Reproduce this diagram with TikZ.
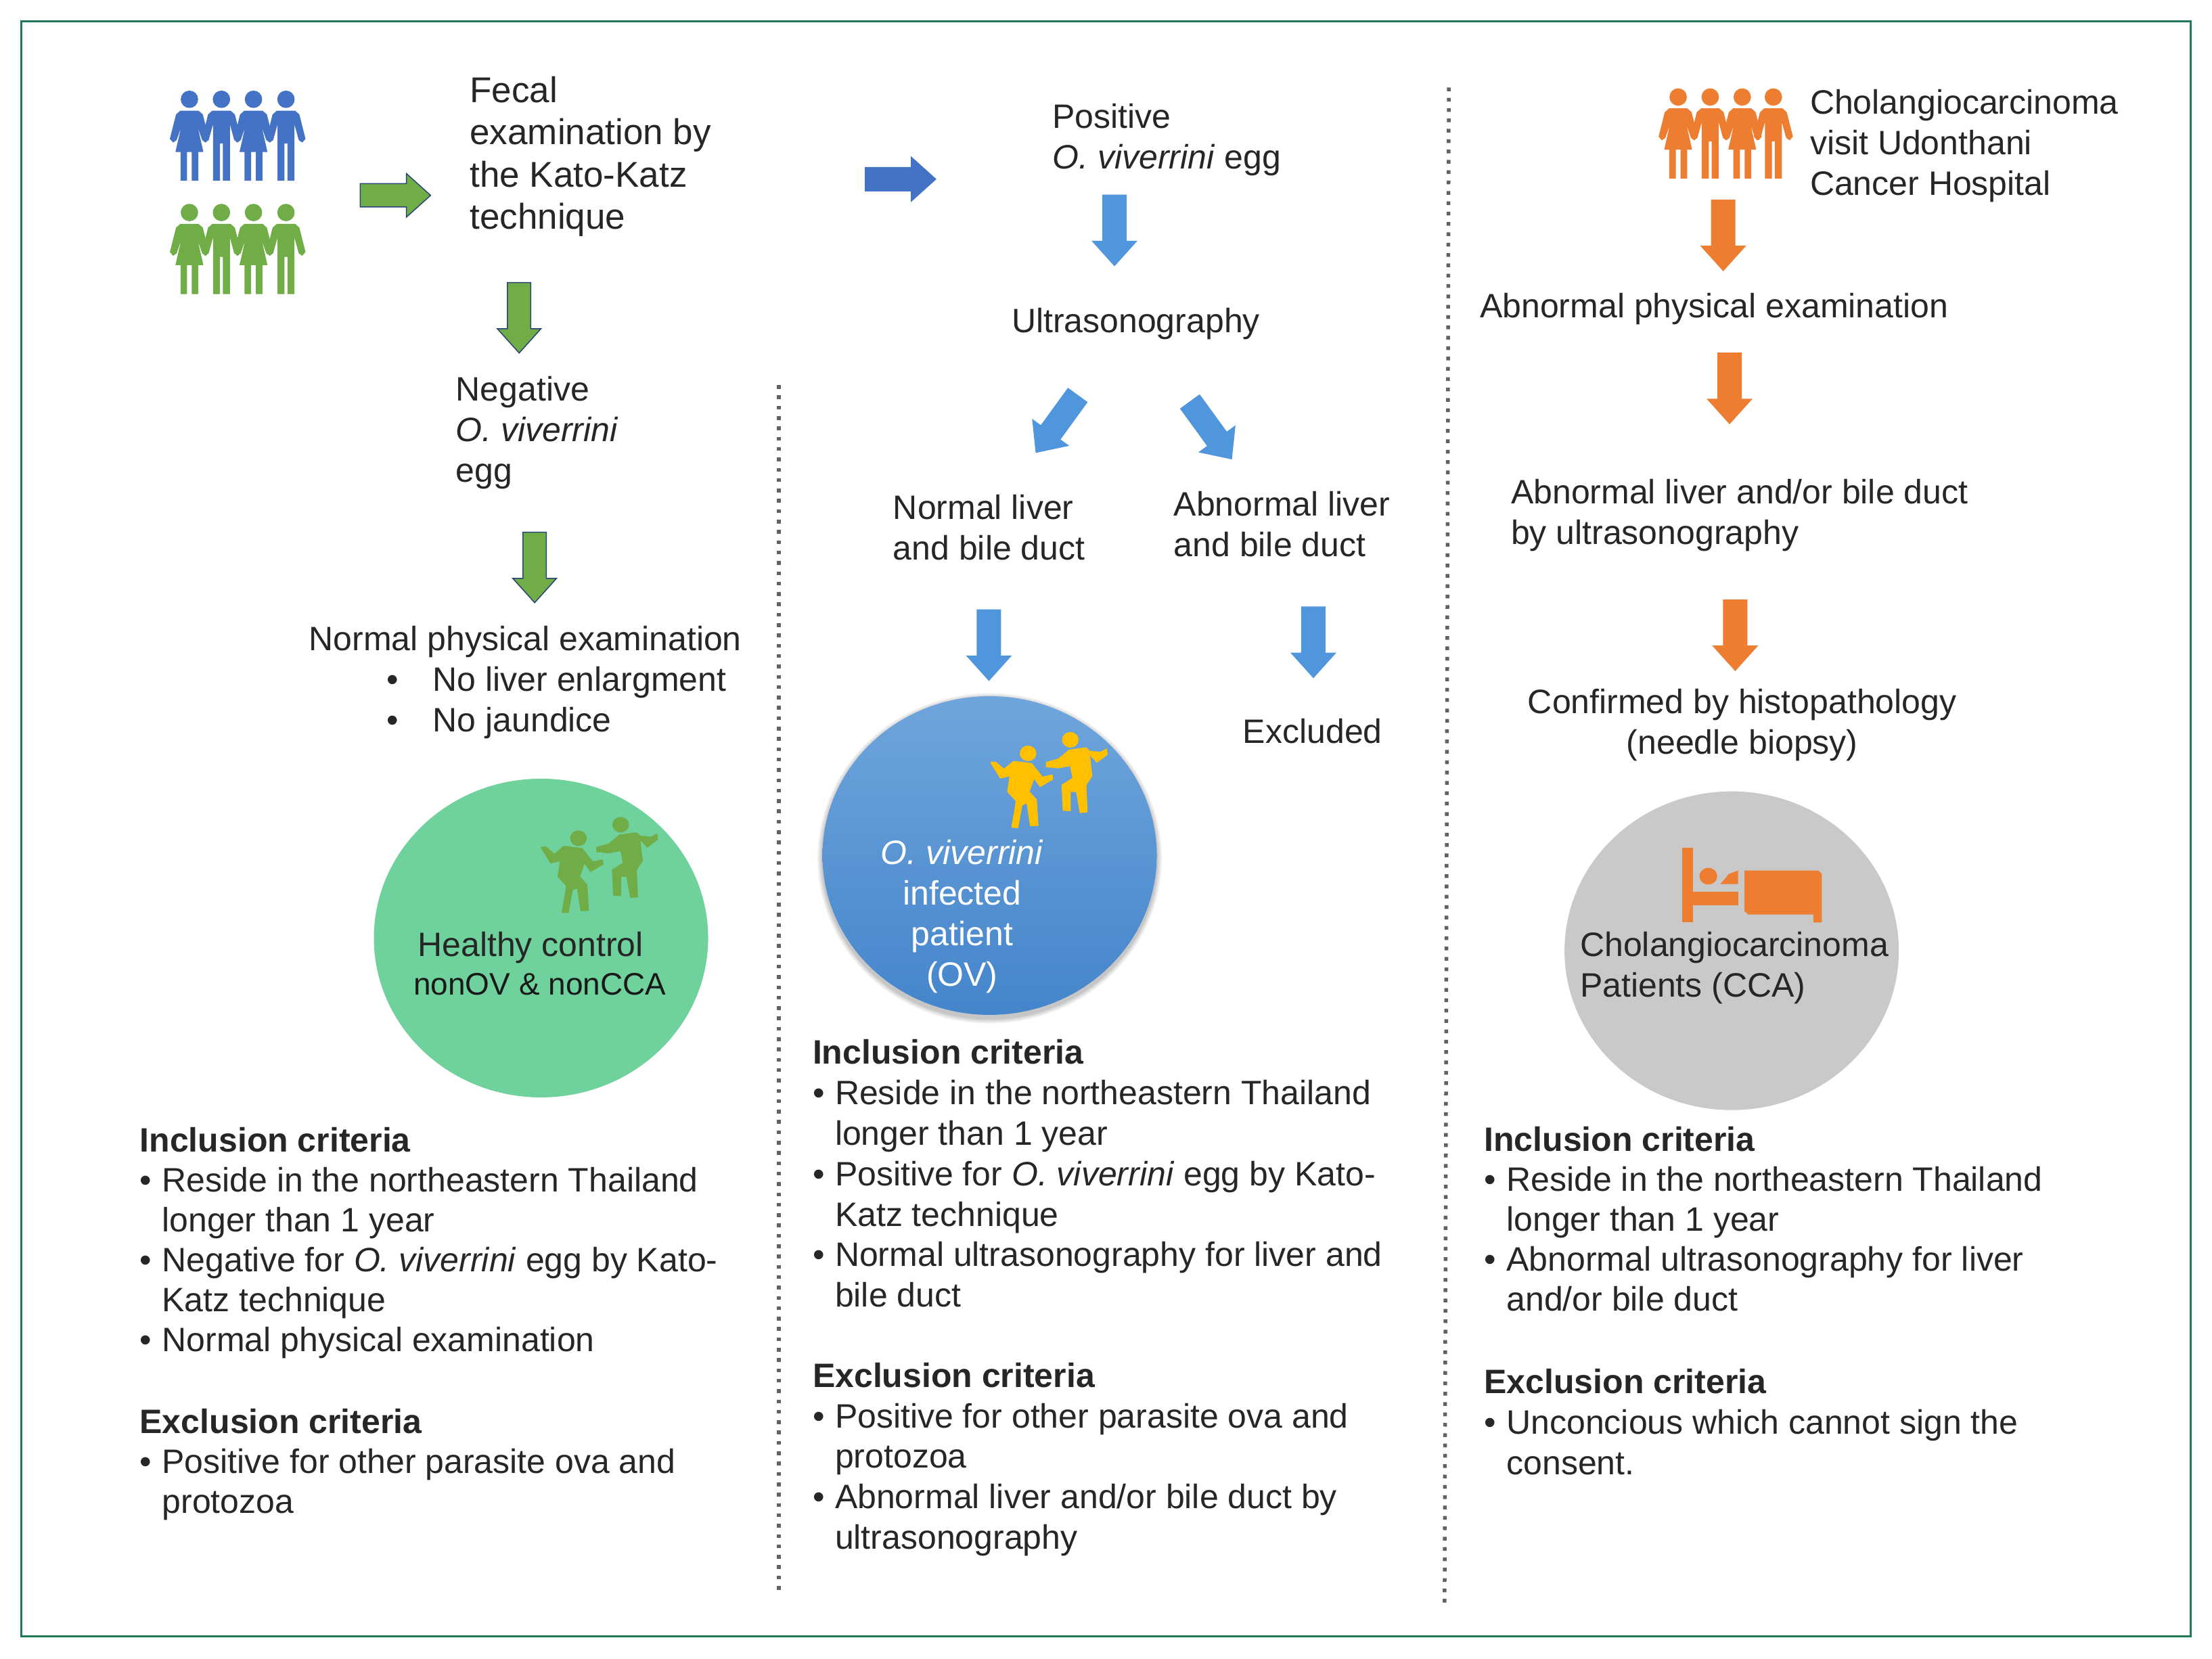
\documentclass[tikz,border=0pt]{standalone}
\usepackage{fontspec}
\setmainfont{Liberation Sans}
\usetikzlibrary{shapes.geometric,shapes.arrows}
\definecolor{framecol}{HTML}{1E7B55}
\definecolor{txtcol}{HTML}{262626}
\definecolor{gfill}{HTML}{70AD47}
\definecolor{bfill}{HTML}{4472C4}
\definecolor{lbfill}{HTML}{5096DC}
\definecolor{ofill}{HTML}{ED7D31}
\definecolor{yfill}{HTML}{FFC000}
\definecolor{gcirc}{HTML}{6FD19B}
\definecolor{grcirc}{HTML}{C9C9C9}
\definecolor{bctop}{HTML}{6FA5DC}
\definecolor{bcbot}{HTML}{4485CB}
\newcommand{\bul}{\makebox[33pt][l]{•}}
\newcommand{\ind}{\hspace*{33pt}}
\tikzset{
  pics/man/.style={code={
    \path[pic actions] (0,0) circle [radius=37];
    \path[pic actions] (-40,52)--(40,52)--(58,68)--(85,175)--(72,190)--(58,180)--(36,100)--(36,360)--(8,360)--(8,195)--(-8,195)--(-8,360)--(-36,360)--(-36,100)--(-58,180)--(-72,190)--(-85,175)--(-58,68)--cycle;
  }},
  pics/woman/.style={code={
    \path[pic actions] (0,0) circle [radius=37];
    \path[pic actions] (-40,52)--(40,52)--(58,68)--(85,175)--(72,190)--(58,180)--(30,100)--(60,232)--(38,232)--(38,360)--(12,360)--(12,232)--(-12,232)--(-12,360)--(-38,360)--(-38,232)--(-60,232)--(-30,100)--(-58,180)--(-72,190)--(-85,175)--(-58,68)--cycle;
  }},
  pics/dancers/.style={code={
    \path[pic actions] (950,340) circle [radius=33];
    \path[pic actions] (1125,280) circle [radius=33];
    \path[pic actions] (795,380)--(815,378)--(850,410)--(890,375)--(965,385)--(1010,445)--(1050,435)--(1052,455)--(1000,488)--(975,450)--(955,510)--(985,545)--(992,660)--(960,662)--(945,560)--(925,570)--(908,670)--(882,668)--(895,590)--(900,550)--(865,510)--(875,440)--(835,450)--cycle;
    \path[pic actions] (1275,320)--(1278,345)--(1235,380)--(1205,345)--(1210,400)--(1215,440)--(1190,480)--(1195,600)--(1165,603)--(1150,510)--(1125,510)--(1125,595)--(1095,593)--(1090,480)--(1135,450)--(1125,395)--(1075,405)--(1025,400)--(1025,380)--(1075,365)--(1120,325)--(1190,315)--(1205,330)--(1250,335)--cycle;
  }},
  pics/bed/.style={code={
    \fill[ofill] (578,308) rectangle (622,640);
    \fill[ofill] (622,505) rectangle (810,565);
    \fill[ofill] (685,435) circle [radius=37];
    \fill[ofill] (735,470)--(770,425)--(808,410)--(808,470)--cycle;
    \fill[ofill] (835,410)--(1140,410)--(1155,425)--(1155,640)--(1120,640)--(1120,605)--(850,605)--(835,590)--cycle;
  }},
  figure/.style={transform shape,line width=1pt,line join=round},
  txt/.style={anchor=north west,inner sep=0pt,align=left,text=txtcol,font=\fontsize{50}{60}\selectfont},
  crit/.style={txt,font=\fontsize{50}{59}\selectfont},
  critb/.style={txt,font=\fontsize{50}{59.8}\selectfont},
  ctxt/.style={txt,anchor=north,align=center},
  blockarrow/.style={single arrow,anchor=tail,inner xsep=0pt,inner ysep=16.5pt,minimum width=63pt,minimum height=104pt,single arrow head extend=15pt,single arrow tip angle=84,line width=1.5pt},
  garrow/.style={blockarrow,fill=gfill,draw=bfill!60!black},
  barrow/.style={blockarrow,fill=bfill,draw=bfill},
  larrow/.style={blockarrow,fill=lbfill,draw=lbfill},
  oarrow/.style={blockarrow,fill=ofill,draw=ofill},
  divider/.style={line width=5.5pt,draw=black!62,dash pattern=on 5.5pt off 9.8pt},
  disc/.style={ellipse,inner sep=0pt,minimum width=494pt,minimum height=471pt},
}
\begin{document}
\begin{tikzpicture}[x=2.0848pt,y=-2.0848pt]
\useasboundingbox (0,0) rectangle (1568,1176.1);
\fill[white] (0,0) rectangle (1568,1176.1);
\node[draw=framecol,line width=3.5pt,inner sep=0pt,minimum width=3206pt,minimum height=2387pt] (frame) at (784,587.5) {};

% people
\begin{scope}[shift={(95.9,48)},scale=.15989]
  \pic[fill=bfill,draw=bfill,figure] at (240,140) {woman};
  \pic[fill=bfill,draw=bfill,figure] at (382,140) {man};
  \pic[fill=bfill,draw=bfill,figure] at (524,140) {woman};
  \pic[fill=bfill,draw=bfill,figure] at (668,140) {man};
  \pic[fill=gfill,draw=gfill,figure] at (240,642) {woman};
  \pic[fill=gfill,draw=gfill,figure] at (382,642) {man};
  \pic[fill=gfill,draw=gfill,figure] at (524,642) {woman};
  \pic[fill=gfill,draw=gfill,figure] at (668,642) {man};
\end{scope}
\begin{scope}[shift={(1151.2,48)},scale=.15989]
  \pic[fill=ofill,draw=ofill,figure] at (240,130) {woman};
  \pic[fill=ofill,draw=ofill,figure] at (382,130) {man};
  \pic[fill=ofill,draw=ofill,figure] at (524,130) {woman};
  \pic[fill=ofill,draw=ofill,figure] at (662,130) {man};
\end{scope}

% discs
\foreach \r in {7,5,3,1.5}{
  \fill[black,opacity=.06] (701.5,608.5) ellipse [x radius=118.5+\r/2,y radius=113.5+\r/2];
}
\node[disc,fill=gcirc] (cgreen) at (383.5,665) {};
\node[disc,top color=bctop,bottom color=bcbot] (cblue) at (701.5,606.5) {};
\node[disc,fill=grcirc] (cgray) at (1227.5,674) {};

\begin{scope}[shift={(247.3,539.9)},xscale=.1713,yscale=.15989]
  \pic[fill=gfill,draw=gfill,figure] at (0,0) {dancers};
\end{scope}
\begin{scope}[shift={(566,479.7)},xscale=.1713,yscale=.15989]
  \pic[fill=yfill,draw=yfill,figure] at (0,0) {dancers};
\end{scope}
\begin{scope}[shift={(1093.6,551.6)},xscale=.1713,yscale=.15989]
  \pic[figure] at (0,0) {bed};
\end{scope}

% block arrows
\node[garrow] (a1) at (255,138.5) {};
\node[barrow] (a2) at (613,127) {};
\node[garrow,rotate=-90] (a3) at (368,200) {};
\node[garrow,rotate=-90] (a4) at (379,377) {};
\node[larrow,rotate=-90] (a5) at (790,138) {};
\node[larrow,rotate=-126] (a6) at (764,280) {};
\node[larrow,rotate=-54] (a7) at (843.4,284.6) {};
\node[larrow,rotate=-90] (a8) at (701,432) {};
\node[larrow,rotate=-90] (a9) at (931,430) {};
\node[oarrow,rotate=-90] (a10) at (1221.5,141.5) {};
\node[oarrow,rotate=-90] (a11) at (1226,250) {};
\node[oarrow,rotate=-90] (a12) at (1230,425) {};

% dividers
\coordinate (d1a) at (552,273);
\coordinate (d1b) at (552,1130);
\coordinate (d2a) at (1027,62);
\coordinate (d2b) at (1024,1140);
\draw[divider] (d1a) -- (d1b);
\draw[divider] (d2a) -- (d2b);

% flow texts
\node[txt,font=\fontsize{53}{62.5}\selectfont] (fecal) at (333,54) {Fecal\\examination by\\the Kato-Katz\\technique};
\node[txt] (pos) at (746,73.5) {Positive\\\textit{O. viverrini} egg};
\node[txt] (ultra) at (717,218.5) {Ultrasonography};
\node[txt] (ccavisit) at (1283,63.5) {Cholangiocarcinoma\\visit Udonthani\\Cancer Hospital};
\node[txt] (abphys) at (1049,207.5) {Abnormal physical examination};
\node[txt] (neg) at (323,266.5) {Negative\\\textit{O. viverrini}\\egg};
\node[txt] (normphys) at (219,443.5) {Normal physical examination\\\hspace*{115pt}\makebox[68pt][l]{•}No liver enlargment\\\hspace*{115pt}\makebox[68pt][l]{•}No jaundice};
\node[txt] (normliver) at (633,350.5) {Normal liver\\and bile duct};
\node[txt] (abliver) at (832,348.5) {Abnormal liver\\and bile duct};
\node[txt] (excl) at (881,509.5) {Excluded};
\node[txt] (abus) at (1071,339.5) {Abnormal liver and/or bile duct\\by ultrasonography};
\node[ctxt] (conf) at (1235,488.5) {Confirmed by histopathology\\(needle biopsy)};

% disc texts
\node[txt] (hc) at (296,660.5) {Healthy control};
\node[txt,font=\fontsize{46}{55}\selectfont,text=black!90] (non) at (293,690) {nonOV \& nonCCA};
\node[ctxt,text=white,font=\fontsize{50}{60}\selectfont] (ovt) at (682,595.5) {\textit{O. viverrini}\\infected\\patient\\(OV)};
\node[txt] (ccat) at (1120,660.5) {Cholangiocarcinoma\\Patients (CCA)};

% criteria
\node[crit] (inc1) at (99,799) {\textbf{Inclusion criteria}\\
\bul Reside in the northeastern Thailand\\\ind longer than 1 year\\
\bul Negative for \textit{O. viverrini} egg by Kato-\\\ind Katz technique\\
\bul Normal physical examination};
\node[crit] (exc1) at (99,998.5) {\textbf{Exclusion criteria}\\
\bul Positive for other parasite ova and\\\ind protozoa};
\node[critb] (inc2) at (576,737) {\textbf{Inclusion criteria}\\
\bul Reside in the northeastern Thailand\\\ind longer than 1 year\\
\bul Positive for \textit{O. viverrini} egg by Kato-\\\ind Katz technique\\
\bul Normal ultrasonography for liver and\\\ind bile duct};
\node[critb] (exc2) at (576,966) {\textbf{Exclusion criteria}\\
\bul Positive for other parasite ova and\\\ind protozoa\\
\bul Abnormal liver and/or bile duct by\\\ind ultrasonography};
\node[crit] (inc3) at (1052,798.5) {\textbf{Inclusion criteria}\\
\bul Reside in the northeastern Thailand\\\ind longer than 1 year\\
\bul Abnormal ultrasonography for liver\\\ind and/or bile duct};
\node[critb] (exc3) at (1052,970.5) {\textbf{Exclusion criteria}\\
\bul Unconcious which cannot sign the\\\ind consent.};
\end{tikzpicture}
\end{document}
